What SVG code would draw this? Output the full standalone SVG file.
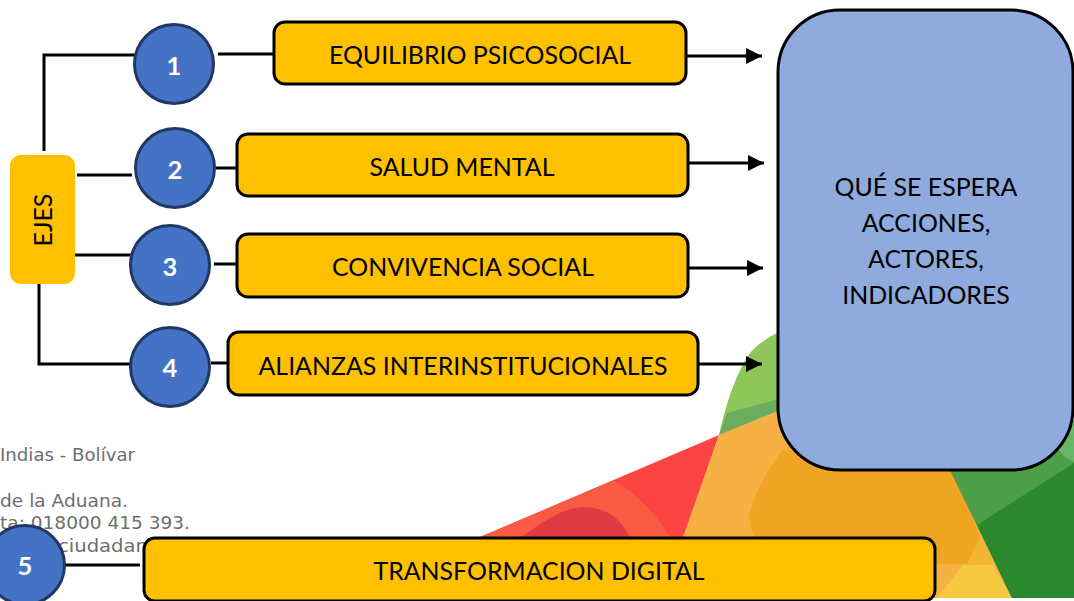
<svg xmlns="http://www.w3.org/2000/svg" width="1074" height="601" viewBox="0 0 1074 601">
<defs>
<marker id="arrow" markerUnits="userSpaceOnUse" markerWidth="18" markerHeight="18" refX="16" refY="9" orient="auto"><path d="M0,1 L16,9 L0,17 Z" fill="#000"/></marker>
</defs>
<style>
text{font-family:Lato,"Open Sans","Liberation Sans",sans-serif}
.box{fill:#ffc000;stroke:#000;stroke-width:3}
.lbl{font-size:24.9px;fill:#000;text-anchor:middle}
.circ{fill:#4472c4;stroke:#1f3864;stroke-width:3}
.num{font-size:25.5px;font-weight:700;fill:#fff;text-anchor:middle}
.ln{fill:none;stroke:#000;stroke-width:3}
.ft{font-size:17px;fill:#6e6e6e;font-family:"DejaVu Sans",sans-serif}
</style>
<rect width="1074" height="601" fill="#fff"/>
<g id="background">
<path d="M719,435 C727,400 735,378 747,357 C756,344 770,335 790,328 L800,420 Z" fill="#8fc65a"/>
<path d="M719,435 L727,413 L790,396 L790,406 Z" fill="#6aad5e"/>
<path d="M480,537 L719,435 L683,540 L480,540 Z" fill="#fb4443"/>
<path d="M480,537 L614,481 C640,495 660,520 672,540 L480,540 Z" fill="#f95c43"/>
<path d="M517,540 C545,520 565,507 583,507 C608,507 622,520 631,540 Z" fill="#e03a42"/>
<path d="M719,435 L790,406 L960,440 L1012,598 L660,598 L683,537 Z" fill="#f7b043"/>
<path d="M782,450 L950,460 L980,537 L967,564 L800,564 C770,560 745,535 750,513 C755,490 770,468 782,450 Z" fill="#f0a522"/>
<path d="M967,564 L980,537 L993,564 Z" fill="#f1b632"/>
<path d="M937,598 L963,565 L993,565 L1012,598 Z" fill="#f6c940"/>
<path d="M945,460 L1074,430 L1074,598 L1012,598 Z" fill="#4f9f49"/>
<path d="M977,525 L1074,463 L1074,598 L1012,598 Z" fill="#2b882f"/>
<path d="M1050,440 L1074,420 L1074,462 L1066,458 Z" fill="#66b768"/>
</g>
<g id="footer-text">
<text class="ft" x="0" y="461" textLength="135" lengthAdjust="spacingAndGlyphs">Indias - Bolívar</text>
<text class="ft" x="0" y="507" textLength="128" lengthAdjust="spacingAndGlyphs">de la Aduana.</text>
<text class="ft" x="0" y="529" textLength="190" lengthAdjust="spacingAndGlyphs">ta: 018000 415 393.</text>
<text class="ft" x="58" y="552" textLength="90" lengthAdjust="spacingAndGlyphs">ciudadan</text>
</g>
<g id="connectors">
<path class="ln" d="M44,151 V55 H135"/>
<path class="ln" d="M77,175 H132"/>
<path class="ln" d="M75,255 H131"/>
<path class="ln" d="M39,283 V364 H131"/>
<path class="ln" d="M218,54 H274"/>
<path class="ln" d="M216,168 H237"/>
<path class="ln" d="M214,264 H237"/>
<path class="ln" d="M211,363 H228"/>
<path class="ln" d="M65,565 H140"/>
<path class="ln" d="M687,56 H762" marker-end="url(#arrow)"/>
<path class="ln" d="M689,163 H764" marker-end="url(#arrow)"/>
<path class="ln" d="M689,268 H763" marker-end="url(#arrow)"/>
<path class="ln" d="M699,364 H762" marker-end="url(#arrow)"/>
</g>
<g id="node-ejes">
<rect x="10" y="155" width="65" height="129" rx="11" fill="#ffc000"/>
<text class="lbl" transform="translate(52,220) rotate(-90)">EJES</text>
</g>
<g id="node-1"><circle class="circ" cx="174" cy="64" r="39.5"/><text class="num" x="174" y="75">1</text></g>
<g id="node-2"><circle class="circ" cx="175" cy="168" r="39.5"/><text class="num" x="175" y="179">2</text></g>
<g id="node-3"><circle class="circ" cx="170" cy="265" r="39.5"/><text class="num" x="170" y="276">3</text></g>
<g id="node-4"><circle class="circ" cx="170" cy="367" r="39.5"/><text class="num" x="170" y="377">4</text></g>
<g id="node-5"><circle class="circ" cx="25" cy="565" r="39.5"/><text class="num" x="25" y="575">5</text></g>
<g id="box-1"><rect class="box" x="274" y="22" width="412" height="62" rx="11"/><text class="lbl" x="480" y="64">EQUILIBRIO PSICOSOCIAL</text></g>
<g id="box-2"><rect class="box" x="237" y="134" width="451" height="62" rx="11"/><text class="lbl" x="462" y="176">SALUD MENTAL</text></g>
<g id="box-3"><rect class="box" x="237" y="234" width="451" height="63" rx="11"/><text class="lbl" x="463" y="276">CONVIVENCIA SOCIAL</text></g>
<g id="box-4"><rect class="box" x="228" y="332" width="470" height="63" rx="11"/><text class="lbl" x="463" y="375">ALIANZAS INTERINSTITUCIONALES</text></g>
<g id="box-5"><rect class="box" x="144" y="538" width="791" height="63" rx="11"/><text class="lbl" x="539" y="580">TRANSFORMACION DIGITAL</text></g>
<g id="node-espera">
<rect x="778" y="10" width="295" height="460" rx="62" fill="#8faadc" stroke="#000" stroke-width="3"/>
<text class="lbl" x="926" y="196">QUÉ SE ESPERA</text>
<text class="lbl" x="926" y="232">ACCIONES,</text>
<text class="lbl" x="926" y="268">ACTORES,</text>
<text class="lbl" x="926" y="304">INDICADORES</text>
</g>
</svg>
